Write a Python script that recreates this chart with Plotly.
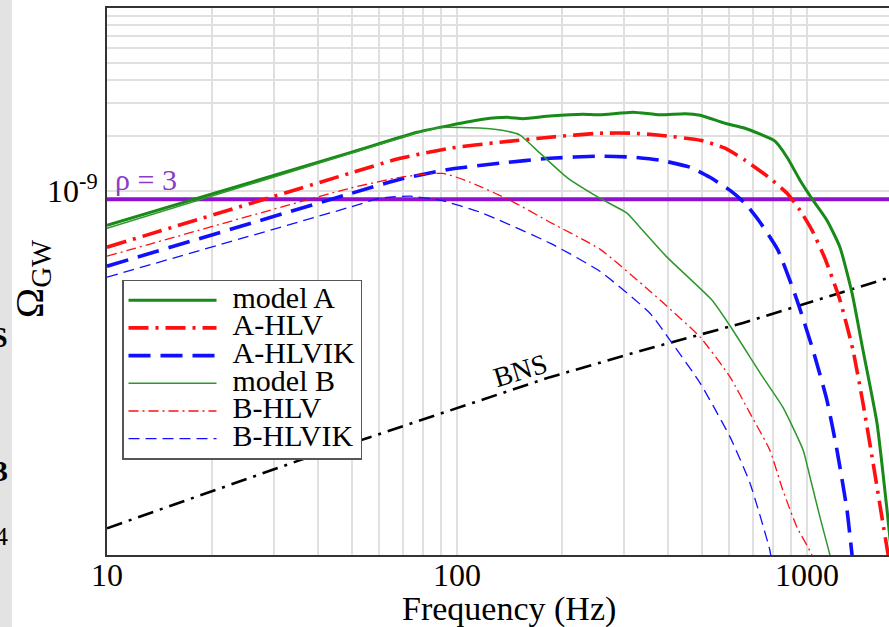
import math
import plotly.graph_objects as go

# ---- spectra: frequency (Hz) vs Omega_GW ----
freq_model_a = [10, 49.5, 76.9, 95.5, 118.6, 139, 154.4, 184.4, 229, 256, 318, 380, 448,
                495, 583, 665, 810, 877, 955, 1040, 1140, 1242, 1345, 1445, 1585, 1693, 1760]
omega_model_a = [6.53e-10, 1.62e-9, 2.09e-9, 2.28e-9, 2.46e-9, 2.52e-9, 2.48e-9, 2.56e-9,
                 2.62e-9, 2.60e-9, 2.69e-9, 2.60e-9, 2.64e-9, 2.59e-9, 2.34e-9, 2.20e-9,
                 1.87e-9, 1.53e-9, 1.148e-9, 8.94e-10, 6.96e-10, 4.96e-10, 2.79e-10,
                 1.37e-10, 5.48e-11, 1.85e-11, 9.0e-12]

freq_a_hlv = [10, 49.5, 68.8, 95.5, 132.7, 184.4, 256, 318, 380, 495, 583, 665, 783, 877,
              955, 1033, 1125, 1242, 1353, 1445, 1545, 1637, 1702, 1740]
omega_a_hlv = [4.96e-10, 1.253e-9, 1.51e-9, 1.713e-9, 1.846e-9, 1.966e-9, 2.066e-9,
               2.066e-9, 2.015e-9, 1.893e-9, 1.713e-9, 1.474e-9, 1.177e-9, 9.75e-10,
               7.88e-10, 6.14e-10, 4.32e-10, 2.56e-10, 1.37e-10, 7.05e-11, 3.32e-11,
               1.69e-11, 1.08e-11, 8.5e-12]

freq_a_hlvik = [10, 49.5, 68.8, 95.5, 132.7, 184.4, 256, 318, 380, 463, 528, 603, 665, 734,
                826, 936, 1040, 1140, 1218, 1301, 1345, 1363]
omega_a_hlvik = [3.91e-10, 9.69e-10, 1.162e-9, 1.317e-9, 1.42e-9, 1.51e-9, 1.55e-9,
                 1.53e-9, 1.474e-9, 1.35e-9, 1.19e-9, 1.01e-9, 8.6e-10, 6.78e-10,
                 4.78e-10, 2.56e-10, 1.37e-10, 7.31e-11, 3.91e-11, 1.85e-11, 1.05e-11,
                 8.2e-12]

freq_model_b = [10, 49.5, 76.9, 89.4, 118.6, 139, 151.4, 172.6, 206, 256, 306, 333, 398,
                535, 603, 748, 853, 975, 1020, 1089, 1163, 1194]
omega_model_b = [6.29e-10, 1.60e-9, 2.07e-9, 2.22e-9, 2.20e-9, 2.12e-9, 2.02e-9, 1.61e-9,
                 1.19e-9, 9.16e-10, 7.6e-10, 6.37e-10, 4.38e-10, 2.56e-10, 1.85e-10,
                 9.75e-11, 6.7e-11, 3.91e-11, 2.79e-11, 1.69e-11, 1.05e-11, 8.2e-12]

freq_b_hlv = [10, 49.5, 68.8, 91.2, 108.8, 141.6, 184.4, 256, 356, 495, 603, 687, 783, 853,
              936, 1033, 1060]
omega_b_hlv = [4.43e-10, 1.038e-9, 1.19e-9, 1.25e-9, 1.12e-9, 8.94e-10, 6.78e-10,
               4.84e-10, 2.86e-10, 1.61e-10, 9.75e-11, 6.21e-11, 3.91e-11, 2.37e-11,
               1.49e-11, 1.05e-11, 8.2e-12]

freq_b_hlvik = [10, 49.5, 60.3, 73.4, 89.4, 116.4, 184.4, 256, 356, 406, 495, 603, 687,
                783, 795]
omega_b_hlvik = [3.41e-10, 8.19e-10, 9.16e-10, 9.39e-10, 8.94e-10, 7.69e-10, 5.22e-10,
                 3.67e-10, 2.17e-10, 1.55e-10, 9.05e-11, 4.6e-11, 2.59e-11, 1.12e-11,
                 9.27e-12]

freq_bns = [10, 35.6, 56.4, 184.4, 356, 656, 1702, 1760]
omega_bns = [1.47e-11, 3.45e-11, 4.6e-11, 9.75e-11, 1.40e-10, 1.92e-10, 3.37e-10, 3.45e-10]

rho_freq = [10, 2000]
rho_level = 9.05e-10
rho_label = "ρ = 3"
bns_label = "BNS"
bns_label_at = (151.6, 1.06e-10)

x_tick_vals = [10, 100, 1000]
x_tick_text = ["10", "100", "1000"]
x_minor_vals = [k * d for d in (10, 100, 1000) for k in range(2, 10)]
y_tick_vals = [1e-9]
y_tick_text = ["10<sup>-9</sup>"]
y_minor_vals = [k * 1e-9 for k in range(2, 10)]

GREEN = "#178a17"
RED = "#ff1010"
BLUE = "#1010ff"
PURPLE = "#9010d0"
SERIF = "Liberation Serif, Times New Roman, serif"


def lbl(s):
    # legend entry: small gap after the line sample, then the label
    return ('<span style="font-size:22px">\u00a0\u00a0</span>'
            '<span style="font-size:30px">' + s + "</span>")


series = [
    ("model A", freq_model_a, omega_model_a, GREEN, 3.0, "solid"),
    ("A-HLV", freq_a_hlv, omega_a_hlv, RED, 3.6, "20px,7px,3px,7px"),
    ("A-HLVIK", freq_a_hlvik, omega_a_hlvik, BLUE, 3.6, "22px,10px"),
    ("model B", freq_model_b, omega_model_b, "#2c982c", 1.5, "solid"),
    ("B-HLV", freq_b_hlv, omega_b_hlv, RED, 1.3, "10px,4px,2px,4px"),
    ("B-HLVIK", freq_b_hlvik, omega_b_hlvik, BLUE, 1.3, "11px,6px"),
]

fig = go.Figure()

# detection threshold
fig.add_trace(go.Scatter(x=rho_freq, y=[rho_level] * len(rho_freq), mode="lines",
                         line=dict(color=PURPLE, width=4), showlegend=False,
                         hoverinfo="skip"))

# binary neutron star background
fig.add_trace(go.Scatter(x=freq_bns, y=omega_bns, mode="lines",
                         line=dict(color="black", width=2.6, dash="16px,7px,3px,7px"),
                         showlegend=False))

for name, fx, fy, color, width, dash in series:
    fig.add_trace(go.Scatter(x=fx, y=fy, mode="lines", name=lbl(name),
                             line=dict(color=color, width=width, dash=dash,
                                       shape="spline", smoothing=0.5)))

grid_col = "#e0e0e0"
fig.update_xaxes(
    type="log", range=[1, 3.2343],
    tickvals=x_tick_vals, ticktext=x_tick_text, ticks="",
    tickfont=dict(family=SERIF, size=32, color="black"), ticklabelstandoff=-9,
    showgrid=True, gridcolor=grid_col, gridwidth=1.6,
    minor=dict(tickvals=x_minor_vals, showgrid=True, gridcolor=grid_col,
               gridwidth=1.6, ticks=""),
    showline=True, linecolor="#333", linewidth=2, mirror=True,
    zeroline=False, automargin=False,
)
fig.update_yaxes(
    type="log", range=[-10.978, -8.004],
    tickvals=y_tick_vals, ticktext=y_tick_text, ticks="",
    tickfont=dict(family=SERIF, size=32, color="black"), ticklabelstandoff=1,
    showgrid=True, gridcolor=grid_col, gridwidth=1.6,
    minor=dict(tickvals=y_minor_vals, showgrid=True, gridcolor=grid_col,
               gridwidth=1.6, ticks=""),
    showline=True, linecolor="#333", linewidth=2, mirror=False,
    zeroline=False, automargin=False,
)

fig.add_annotation(x=0.5147, y=-0.099, xref="paper", yref="paper",
                   text="Frequency (Hz)", showarrow=False,
                   xanchor="center", yanchor="middle",
                   font=dict(family=SERIF, size=34, color="black"))
fig.add_annotation(x=-0.0965, y=0.505, xref="paper", yref="paper",
                   text='Ω<sub>GW</sub>', textangle=-90, showarrow=False,
                   xanchor="center", yanchor="middle",
                   font=dict(family=SERIF, size=41, color="black"))
# annotations on log axes take log10 coordinates
fig.add_annotation(x=0.008, y=math.log10(rho_level), xref="paper", yref="y",
                   text=rho_label, showarrow=False, xanchor="left", yanchor="bottom",
                   yshift=1, font=dict(family=SERIF, size=30, color="#8a3cc8"))
fig.add_annotation(x=math.log10(bns_label_at[0]), y=math.log10(bns_label_at[1]),
                   xref="x", yref="y", text=bns_label,
                   showarrow=False, textangle=-17,
                   font=dict(family=SERIF, size=28, color="black"))

# strip of the neighbouring slide at the left edge
fig.add_shape(type="rect", xref="paper", yref="paper", x0=-0.1369, x1=-0.1215,
              y0=-0.2, y1=1.02, fillcolor="#e3e3e3", line=dict(width=0), layer="below")
for txt, yp, bold, size in [("S", 0.400, True, 30), ("3", 0.155, True, 30), ("4", 0.034, False, 26)]:
    fig.add_annotation(x=-0.1245, y=yp, xref="paper", yref="paper",
                       text=("<b>%s</b>" % txt) if bold else txt, showarrow=False,
                       xanchor="right", yanchor="middle",
                       font=dict(family=SERIF, size=size, color="black"))

fig.update_layout(
    width=889, height=627,
    margin=dict(l=107, r=0, t=8, b=72),
    paper_bgcolor="white", plot_bgcolor="white",
    showlegend=True,
    legend=dict(x=0.0192, y=0.503, xanchor="left", yanchor="top",
                bgcolor="white", bordercolor="#555", borderwidth=1.5,
                font=dict(family=SERIF, size=19, color="black"),
                itemwidth=88, tracegroupgap=0),
)

fig.write_html("out.html")
